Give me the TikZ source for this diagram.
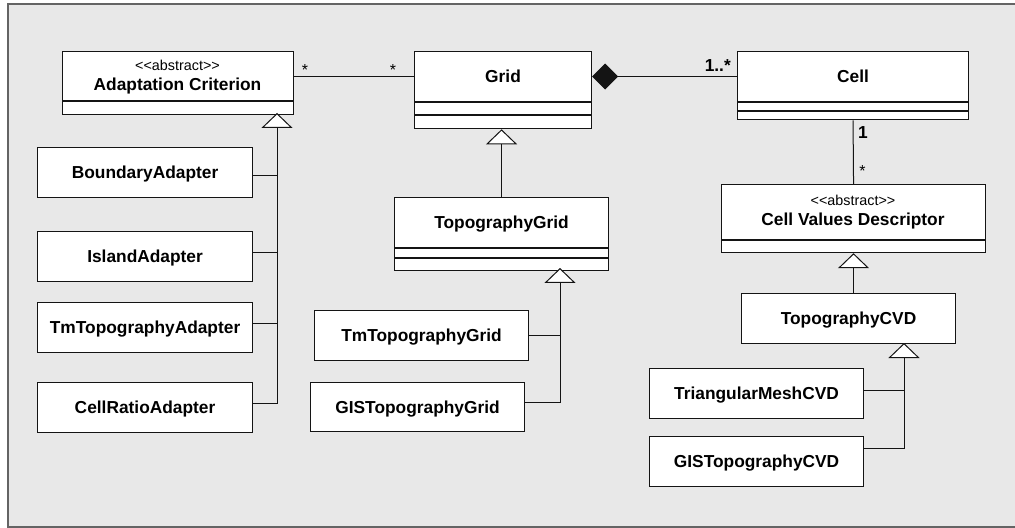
\documentclass[tikz,border=0pt]{standalone}
\usepackage{fontspec}
\setmainfont{Liberation Sans}
\usetikzlibrary{arrows.meta,calc}
\definecolor{panel}{RGB}{232,232,232}
\definecolor{rim}{RGB}{100,100,100}
\definecolor{ink}{RGB}{20,20,20}
\newcommand{\clsfont}{\fontsize{17.4}{20}\selectfont\bfseries}
\newcommand{\stfont}{\fontsize{14.4}{17}\selectfont}
\newcommand{\multfont}{\fontsize{16}{19}\selectfont}
\newcommand{\abstractmark}{<\kern0pt<abstract>\kern0pt>}
\begin{document}
\begin{tikzpicture}[x=1bp,y=-1bp,
  cls/.style={draw=ink, fill=white, line width=1.1bp, inner sep=0pt,
    font=\clsfont, text height=12.5bp, text depth=0pt, anchor=north west},
  part/.style={draw=ink, fill=white, line width=1.1bp, inner sep=0pt, anchor=north},
  sz/.style 2 args={minimum width=#1bp, minimum height=#2bp},
  link/.style={draw=ink, line width=1bp},
  gen/.style={link, -{Triangle[fill=white, width=31bp, length=15bp]}},
  comp/.style={link, {Diamond[fill=ink, width=26bp, length=26bp]}-},
  mult/.style={font=\multfont, anchor=base, inner sep=0pt},
  bmult/.style={font=\clsfont, anchor=base, inner sep=0pt},
  stereo/.style={font=\stfont, anchor=base, inner sep=0pt},
  title/.style={font=\clsfont, anchor=base, inner sep=0pt}]

% canvas and panel
\useasboundingbox (0,0) rectangle (1015,528);
\fill[white] (0,0) rectangle (1015,528);
\draw[rim, line width=1.5bp, fill=panel] (8,4) rectangle (1030,527);

% ---- classes with compartments
\node[cls, sz={231}{49}] (ac) at (62,51) {};
\node[part, sz={231}{13}] (acA) at (ac.south) {};
\node[stereo] (acS) at (177.5,71) {\abstractmark};
\node[title] (acT) at (177.5,90.5) {Adaptation Criterion};

\node[cls, sz={177}{50}] (grid) at (414,51) {Grid};
\node[part, sz={177}{12}] (gridA) at (grid.south) {};
\node[part, sz={177}{13}] (gridO) at (gridA.south) {};

\node[cls, sz={231}{50}] (cell) at (737,51) {Cell};
\node[part, sz={231}{8}] (cellA) at (cell.south) {};
\node[part, sz={231}{8}] (cellO) at (cellA.south) {};

\node[cls, sz={264}{55}] (cvd) at (721,184) {};
\node[part, sz={264}{12}] (cvdA) at (cvd.south) {};
\node[stereo] (cvdS) at (853,206) {\abstractmark};
\node[title] (cvdT) at (853,225.5) {Cell Values Descriptor};

\node[cls, sz={214}{50}] (tg) at (394,197) {TopographyGrid};
\node[part, sz={214}{9}] (tgA) at (tg.south) {};
\node[part, sz={214}{12}] (tgO) at (tgA.south) {};

% ---- leaf classes
\node[cls, sz={215}{50}] (bnd) at (37,147) {BoundaryAdapter};
\node[cls, sz={215}{50}] (isl) at (37,231) {IslandAdapter};
\node[cls, sz={215}{50}] (tma) at (37,302) {TmTopographyAdapter};
\node[cls, sz={215}{50}] (cra) at (37,382) {CellRatioAdapter};

\node[cls, sz={214}{50}] (tmg) at (314,310) {TmTopographyGrid};
\node[cls, sz={214}{49}] (gisg) at (310,382) {GISTopographyGrid};

\node[cls, sz={214}{50}] (tcvd) at (741,293) {TopographyCVD};
\node[cls, sz={214}{50}] (tri) at (649,368) {TriangularMeshCVD};
\node[cls, sz={214}{50}] (giscvd) at (649,436) {GISTopographyCVD};

% inheritance tips
\coordinate (acTip) at (277,113);
\coordinate (tgTip) at (560,268);
\coordinate (tcTip) at (904,343);

% ---- associations
\draw[link] (ac.east) -- (ac.east -| grid.west);
\draw[comp] (grid.east) -- (cell.west);
\draw[link] (cellO.south) -- (cvd.north);

\node[mult] (mAC) at (305,76) {*};
\node[mult] (mGrid) at (393,76) {*};
\node[bmult, anchor=base east] (mCell) at (731,72) {1..*};
\node[bmult] (mOne) at (863,139) {1};
\node[mult] (mMany) at (862.5,177) {*};

% ---- generalisations
\draw[link] ($(bnd.east)+(0,3)$) -- ($(bnd.east -| acTip)+(0,3)$);
\draw[link] ($(isl.east)+(0,-4)$) -- ($(isl.east -| acTip)+(0,-4)$);
\draw[link] ($(tma.east)+(0,-4)$) -- ($(tma.east -| acTip)+(0,-4)$);
\draw[gen] ($(cra.east)+(0,-4)$) -| (acTip);

\draw[gen] (tg.north) -- (tg.north |- gridO.south);

\draw[link] (tmg.east) -- (tmg.east -| tgTip);
\draw[gen] ($(gisg.east)+(0,-5)$) -| (tgTip);

\draw[gen] (cvdA.south |- tcvd.north) -- (cvdA.south);

\draw[link] ($(tri.east)+(0,-3)$) -- ($(tri.east -| tcTip)+(0,-3)$);
\draw[gen] ($(giscvd.east)+(0,-13)$) -| (tcTip);
\end{tikzpicture}
\end{document}
